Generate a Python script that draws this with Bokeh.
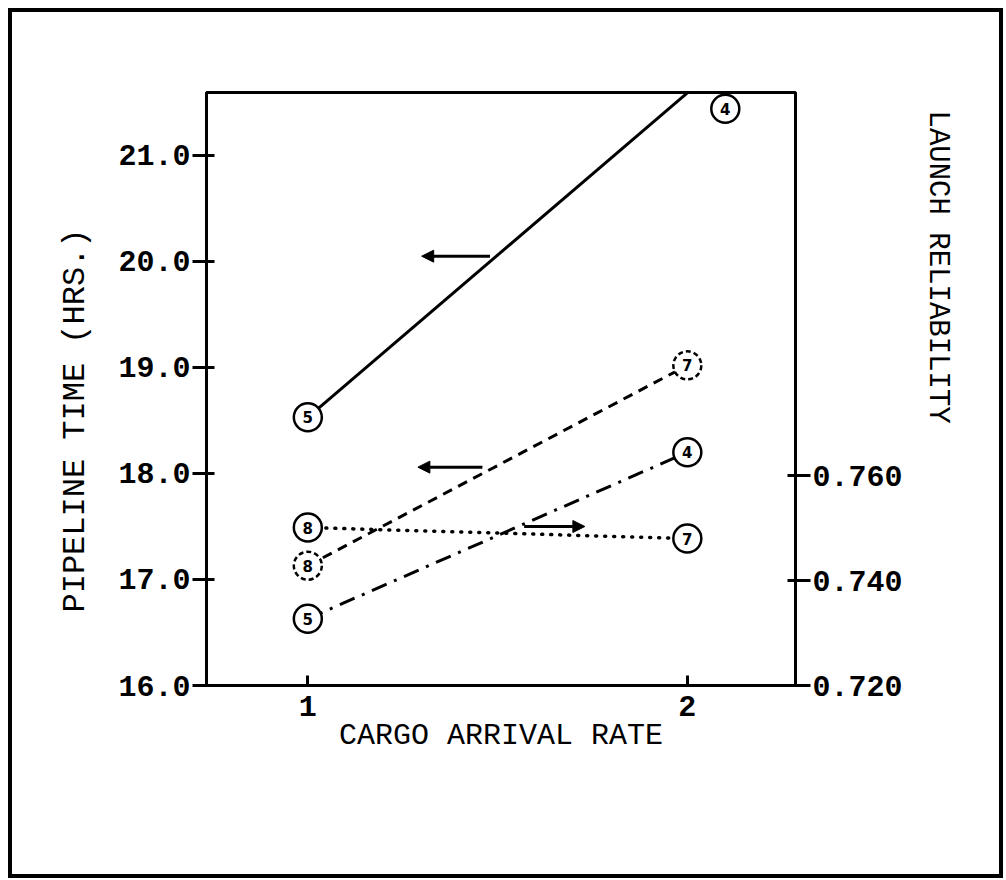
from bokeh.plotting import figure
from bokeh.models import (LinearAxis, Range1d, FixedTicker, PrintfTickFormatter,
                          Arrow, NormalHead, Title)
from bokeh.core.properties import value
from bokeh.embed import file_html
from bokeh.resources import INLINE

# ---------------- data ----------------
x_rate = [1, 2]
pipeline_solid = [18.53, 21.59]
pipeline_dashed = [17.13, 19.02]
pipeline_dashdot = [16.63, 18.20]
reliability_dotted = [0.7501, 0.7480]

solid_marker_x = [1, 2.1]
solid_marker_y = [18.53, 21.44]
solid_marker_text = ["5", "4"]
dashed_marker_text = ["8", "7"]
dashdot_marker_text = ["5", "4"]
dotted_marker_text = ["8", "7"]

left_ticks = [16, 17, 18, 19, 20, 21]
right_ticks = [0.72, 0.74, 0.76]
x_ticks = [1, 2]

# arrows: (tail x, head x, y, range)
arrows = [
    (1.48, 1.30, 20.05, "default"),
    (1.46, 1.29, 18.06, "default"),
    (1.57, 1.73, 0.7503, "right"),
]

MONO = "Liberation Mono"

p = figure(width=995, height=870, output_backend="svg", toolbar_location=None,
           x_range=Range1d(0.733, 2.285), y_range=Range1d(16.0, 21.594),
           min_border_left=194, min_border_right=212, min_border_top=80,
           min_border_bottom=197)
p.styles = {"border": "4px solid black", "margin": "8px 0 0 8px"}
p.extra_y_ranges = {"right": Range1d(0.720, 0.833)}
p.grid.visible = False
p.outline_line_color = "black"
p.outline_line_width = 3
p.background_fill_color = "white"
p.border_fill_color = "white"

# x axis
xa = p.xaxis[0]
xa.ticker = FixedTicker(ticks=x_ticks)
xa.formatter = PrintfTickFormatter(format="%d")
xa.axis_label = "CARGO ARRIVAL RATE"

# left axis
ya = p.yaxis[0]
ya.ticker = FixedTicker(ticks=left_ticks)
ya.formatter = PrintfTickFormatter(format="%.1f")

# right axis
ra = LinearAxis(y_range_name="right", ticker=FixedTicker(ticks=right_ticks),
                formatter=PrintfTickFormatter(format="%.3f"))
p.add_layout(ra, "right")

for ax in (xa, ya, ra):
    ax.axis_line_width = 3
    ax.axis_line_color = "black"
    ax.major_tick_line_width = 3
    ax.major_tick_line_color = "black"
    ax.minor_tick_line_color = None
    ax.major_label_text_font = MONO
    ax.major_label_text_font_size = "30px"
    ax.major_label_text_font_style = "bold"
    ax.major_label_text_color = "black"
    ax.axis_label_text_font = MONO
    ax.axis_label_text_font_size = "30px"
    ax.axis_label_text_font_style = "normal"
    ax.axis_label_text_color = "black"

xa.major_tick_in = 10
xa.major_tick_out = 0
xa.major_label_standoff = 10
xa.axis_label_standoff = 0

ya.major_tick_in = 8
ya.major_tick_out = 14
ya.major_label_standoff = 2

ra.major_tick_in = 8
ra.major_tick_out = 15
ra.major_label_standoff = 2
ra.major_label_orientation = "horizontal"

# axis titles placed like the original (off-centre)
p.add_layout(Title(text="PIPELINE TIME (HRS.)", align="left", offset=73,
                   vertical_align="bottom", standoff=44,
                   text_font=MONO, text_font_size="32px",
                   text_font_style="normal", text_color="black"), "left")
p.add_layout(Title(text="LAUNCH RELIABILITY", align="left", offset=18,
                   vertical_align="bottom", standoff=30,
                   text_font=MONO, text_font_size="29px",
                   text_font_style="normal", text_color="black"), "right")

# lines
p.line(x_rate, pipeline_solid, line_color="black", line_width=3)
p.line(x_rate, pipeline_dashed, line_color="black", line_width=3, line_dash="10 7")
p.line(x_rate, pipeline_dashdot, line_color="black", line_width=3, line_dash="16 8 3 8")
p.line(x_rate, reliability_dotted, line_color="black", line_width=3.5, line_dash="1 8",
       line_cap="round", y_range_name="right")

# markers
def circ(xs, ys, texts, dashed=False, rng="default"):
    kw = dict(size=28, marker="circle", fill_color="white", line_color="black",
              line_width=2.5, y_range_name=rng)
    if dashed:
        kw["line_dash"] = "5 3"
    p.scatter(xs, ys, **kw)
    p.text(xs, ys, text=texts, text_align="center", text_baseline="middle",
           text_font=value("DejaVu Sans"), text_font_size="15px",
           text_font_style="bold", text_color="black", y_range_name=rng)

circ(solid_marker_x, solid_marker_y, solid_marker_text)
circ(x_rate, pipeline_dashed, dashed_marker_text, dashed=True)
circ(x_rate, pipeline_dashdot, dashdot_marker_text)
circ(x_rate, reliability_dotted, dotted_marker_text, rng="right")

# arrows
for xs, xe, yv, rng in arrows:
    p.add_layout(Arrow(x_start=xs, y_start=yv, x_end=xe, y_end=yv, y_range_name=rng,
                       line_width=3, line_color="black",
                       end=NormalHead(size=12, fill_color="black", line_color="black")))

open("out.html", "w").write(file_html(p, INLINE))
